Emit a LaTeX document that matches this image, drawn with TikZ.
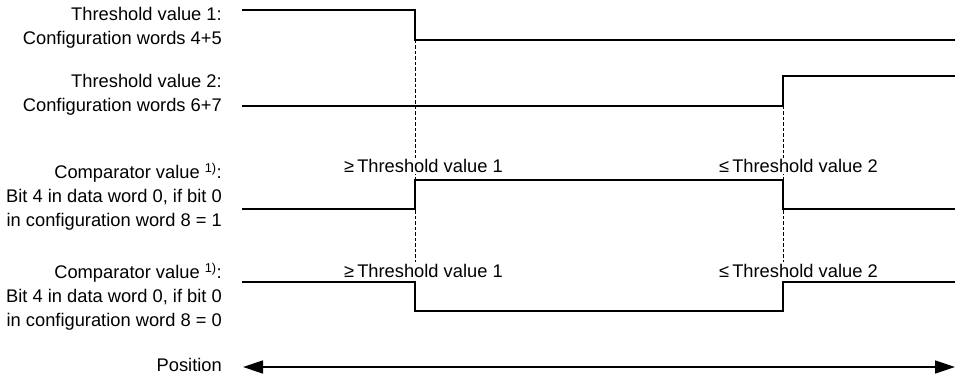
\documentclass[tikz,border=0pt]{standalone}
\usepackage{fontspec}
\setmainfont{Liberation Sans}
\usetikzlibrary{arrows.meta}
\begin{document}
\begin{tikzpicture}[x=1pt, y=-1pt,
    signal/.style={line width=1.4pt},
    guide/.style={line width=0.7pt, dash pattern=on 3.5pt off 2pt},
    rowlabel/.style={anchor=east, align=right, inner sep=0pt, font=\fontsize{18.3}{24}\selectfont},
    limit/.style={anchor=west, inner sep=1pt, fill=white, font=\fontsize{18.3}{24}\selectfont}]
    \useasboundingbox (0,0) rectangle (956,374);

    % Dashed guides at the switching points
    \draw[guide] (415,40) -- (415,262);
    \draw[guide] (783,106) -- (783,262);

    % Threshold value 1
    \node[rowlabel] (thr1) at (222,28) {Threshold value 1:\\Configuration words 4+5};
    \draw[signal] (242,10) -- (415,10) -- (415,40) -- (955,40);

    % Threshold value 2
    \node[rowlabel] (thr2) at (222,95) {Threshold value 2:\\Configuration words 6+7};
    \draw[signal] (242,106) -- (783,106) -- (783,76) -- (955,76);

    % Comparator value, bit 0 = 1
    \node[rowlabel] (cmp1) at (222,197) {Comparator value~\textsuperscript{1)}:\\Bit 4 in data word 0, if bit 0\\in configuration word 8 = 1};
    \draw[signal] (242,209) -- (415,209) -- (415,180) -- (783,180) -- (783,209) -- (955,209);
    \node[limit] (ge1) at (343,166) {≥\,Threshold value 1};
    \node[limit] (le1) at (718,166) {≤\,Threshold value 2};

    % Comparator value, bit 0 = 0
    \node[rowlabel] (cmp0) at (222,297) {Comparator value~\textsuperscript{1)}:\\Bit 4 in data word 0, if bit 0\\in configuration word 8 = 0};
    \draw[signal] (242,282) -- (415,282) -- (415,311) -- (783,311) -- (783,282) -- (955,282);
    \node[limit] (ge0) at (343,271) {≥\,Threshold value 1};
    \node[limit] (le0) at (718,271) {≤\,Threshold value 2};

    % Position axis
    \node[rowlabel] (pos) at (222,365) {Position};
    \coordinate (posL) at (243,367);
    \coordinate (posR) at (955,367);
    \draw[signal, {Triangle[length=20pt,width=13pt]}-{Triangle[length=20pt,width=13pt]}] (posL) -- (posR);
\end{tikzpicture}
\end{document}
